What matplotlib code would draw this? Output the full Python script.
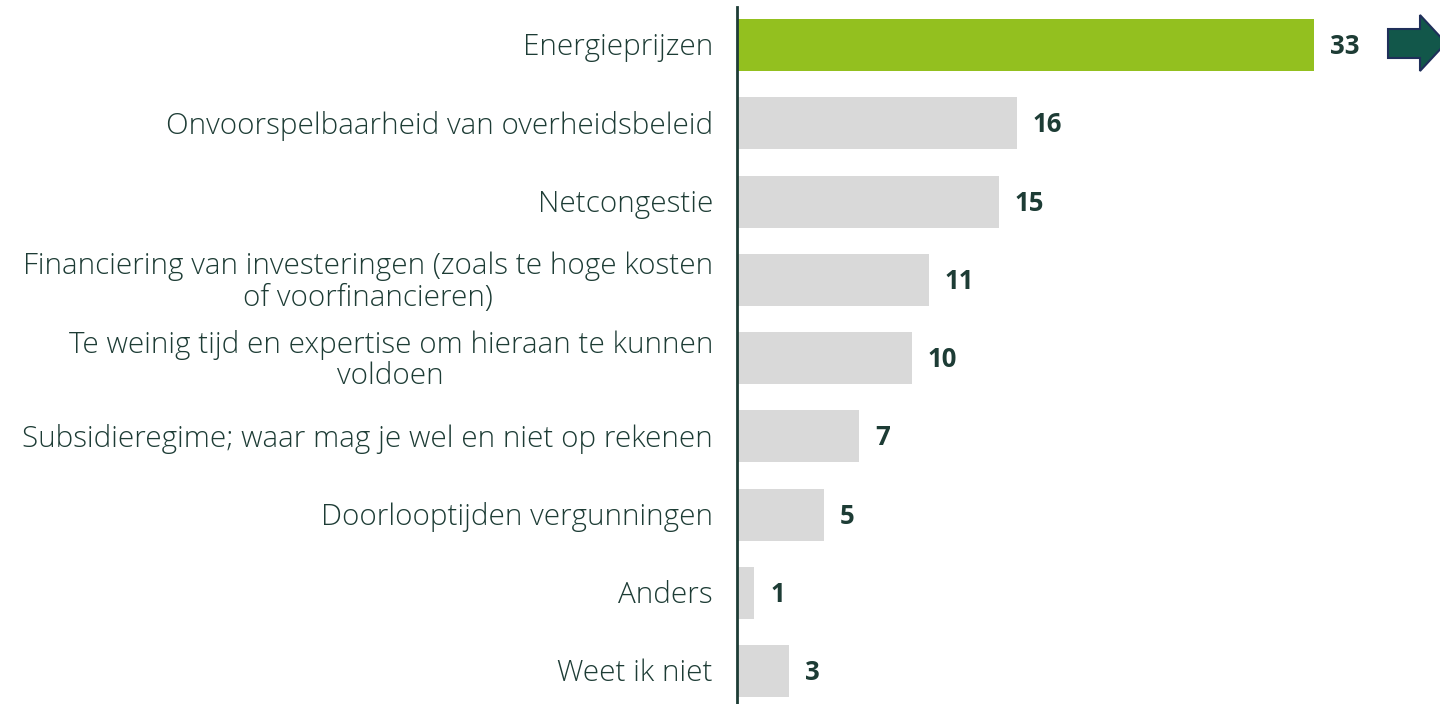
import matplotlib
matplotlib.use('Agg')
import matplotlib.pyplot as plt
from matplotlib.patches import Polygon

categories = [
	"Energieprijzen",
	"Onvoorspelbaarheid van overheidsbeleid",
	"Netcongestie",
	"Financiering van investeringen (zoals te hoge kosten\nof voorfinancieren)",
	"Te weinig tijd en expertise om hieraan te kunnen\nvoldoen",
	"Subsidieregime; waar mag je wel en niet op rekenen",
	"Doorlooptijden vergunningen",
	"Anders",
	"Weet ik niet",
]
values = [33, 16, 15, 11, 10, 7, 5, 1, 3]

TEXT = "#1d3c35"
GREEN = "#93c01f"
GREY = "#d9d9d9"
plt.rcParams['font.family'] = ['Open Sans', 'DejaVu Sans']

W, H = 1440, 704
fig = plt.figure(figsize=(14.4, 7.04), dpi=100)
ax = fig.add_axes([737 / W, 0, 703 / W, 697 / H])

colors = [GREEN] + [GREY] * (len(values) - 1)
y = list(range(len(values)))
ax.barh(y, values, height=0.665, color=colors, zorder=2)
ax.set_xlim(0, 703 / 17.48)
ax.set_ylim(8.42, -0.486)

for i, v in enumerate(values):
	ax.text(v + 0.9, i + 0.02, str(v), va='center', ha='left', fontsize=18.5,
		fontweight='bold', color=TEXT)
	ax.text(-24 / 17.48, i + 0.03, categories[i], va='center', ha='right',
		multialignment='center', fontsize=21.3, fontweight='light',
		color=TEXT, linespacing=1.1)

for s in ['top', 'right', 'bottom']:
	ax.spines[s].set_visible(False)
ax.spines['left'].set_color(TEXT)
ax.spines['left'].set_linewidth(2)
ax.set_xticks([])
ax.set_yticks([])

# arrow marker at the top right
pts = [(1388, 29), (1420, 29), (1420, 15), (1446, 43), (1420, 71), (1420, 58), (1388, 58)]
pts = [(px / W, (H - py) / H) for px, py in pts]
fig.add_artist(Polygon(pts, closed=True, facecolor="#12574a", edgecolor="#1f2f5a",
	linewidth=1.5, transform=fig.transFigure))

fig.savefig("out.png", dpi=100)
